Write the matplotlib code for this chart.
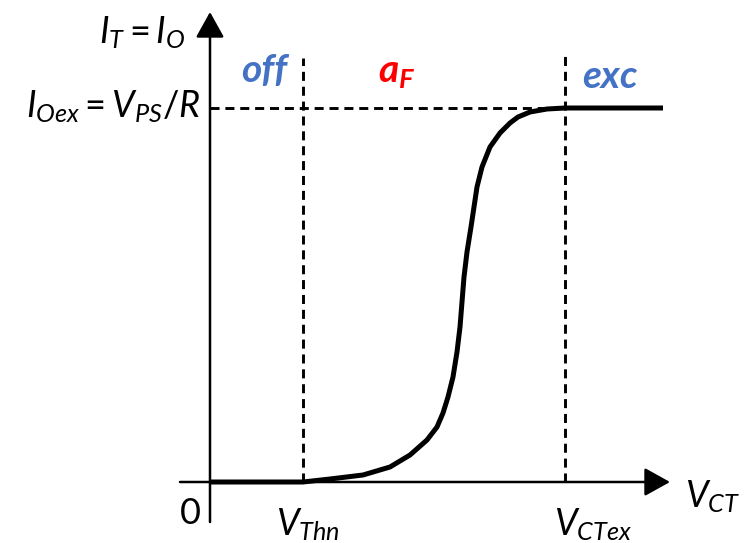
import matplotlib
matplotlib.use("Agg")
import matplotlib.pyplot as plt

plt.rcParams["font.family"] = ["Lato", "DejaVu Sans"]
plt.rcParams["mathtext.fontset"] = "custom"
plt.rcParams["mathtext.rm"] = "Lato"
plt.rcParams["mathtext.it"] = "Lato:italic"
plt.rcParams["mathtext.bf"] = "Lato:italic:bold"

# Transfer characteristic I_T(V_CT), arbitrary units
v_ct = [0, 93, 120, 153, 180, 200, 217, 227, 233, 238, 243, 247, 250, 252,
        254, 257, 261, 264, 267, 272, 280, 290, 300, 308, 320, 337, 355, 453]
i_t = [0, 0, 3, 7, 15, 27, 42, 55, 69, 85, 105, 130, 155, 180,
       205, 230, 255, 275, 295, 315, 335, 349, 359, 365, 370, 373, 374, 374]

v_thn = 93      # threshold
v_ctex = 355    # start of saturation
i_oex = 374     # saturation current

blue = "#4472C4"
red = "#FF0000"

fig = plt.figure(figsize=(7.48, 5.43), dpi=100)
ax = fig.add_axes([0, 0, 1, 1])
ax.set_xlim(-210, 538)
ax.set_ylim(-61, 482)
ax.axis("off")

# axes with arrow heads
arrow = dict(arrowstyle="-|>,head_length=0.63,head_width=0.35", mutation_scale=25,
             lw=1.8, color="black", shrinkA=0, shrinkB=0)
ax.annotate("", xy=(460, 0), xytext=(-30, 0), arrowprops=arrow)
ax.annotate("", xy=(0, 470), xytext=(0, -40), arrowprops=arrow)

# guide lines
dash = dict(color="black", lw=2.1, dashes=(3.1, 2.0))
ax.plot([v_thn, v_thn], [0, 424], **dash)
ax.plot([v_ctex, v_ctex], [0, 430], **dash)
ax.plot([0, v_ctex], [i_oex, i_oex], **dash)

ax.plot(v_ct, i_t, color="black", lw=3.6, solid_capstyle="butt", solid_joinstyle="round")

# labels
fs = 26
ax.text(-25, 449, "$I_T = I_O$", fontsize=fs, ha="right", va="center")
ax.text(-10, 375, "$I_{Oex} = V_{PS}/R$", fontsize=fs, ha="right", va="center")
ax.text(-20, -32, "0", fontsize=fs, ha="center", va="center")
ax.text(98, -43, "$V_{Thn}$", fontsize=fs, ha="center", va="center")
ax.text(383, -43, "$V_{CTex}$", fontsize=fs, ha="center", va="center")
ax.text(475, -15, "$V_{CT}$", fontsize=fs, ha="left", va="center")

ax.text(54, 412, "off", fontsize=28, color=blue, fontweight="bold", fontstyle="italic",
        ha="center", va="center")
ax.text(187, 410, r"$\mathbf{a_F}$", fontsize=28, color=red, ha="center", va="center")
ax.text(400, 406, "exc", fontsize=28, color=blue, fontweight="bold", fontstyle="italic",
        ha="center", va="center")

fig.savefig("out.png", dpi=100)
